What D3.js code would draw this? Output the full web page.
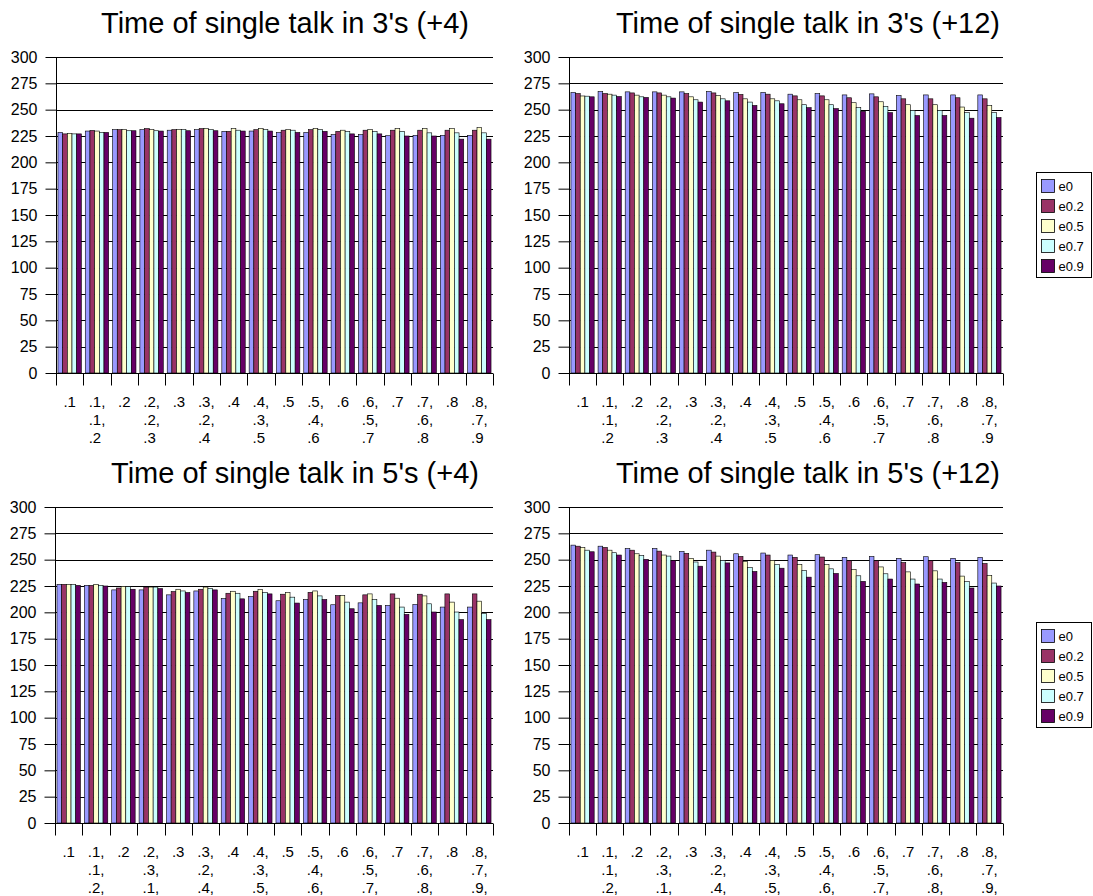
<!DOCTYPE html>
<html>
<head>
<meta charset="utf-8">
<script src="https://cdn.jsdelivr.net/npm/d3@7"></script>
<style>
  body { margin: 0; background: #fff; }
  svg { display: block; font-family: "Liberation Sans", Arial, sans-serif; }
</style>
</head>
<body>
<svg id="chart" width="1093" height="896"></svg>
<script>
// series + categories
const seriesNames = ["e0", "e0.2", "e0.5", "e0.7", "e0.9"];
const seriesColors = ["#9999FF", "#993366", "#FFFFCC", "#CCFFFF", "#660066"];
const yTicks = [0, 25, 50, 75, 100, 125, 150, 175, 200, 225, 250, 275, 300];

const catsTop = [".1", ".1,\n.1,\n.2", ".2", ".2,\n.2,\n.3", ".3", ".3,\n.2,\n.4", ".4", ".4,\n.3,\n.5",
                 ".5", ".5,\n.4,\n.6", ".6", ".6,\n.5,\n.7", ".7", ".7,\n.6,\n.8", ".8", ".8,\n.7,\n.9"];
const catsBottom = [".1", ".1,\n.1,\n.2,", ".2", ".2,\n.3,\n.1,", ".3", ".3,\n.2,\n.4,", ".4", ".4,\n.3,\n.5,",
                    ".5", ".5,\n.4,\n.6,", ".6", ".6,\n.5,\n.7,", ".7", ".7,\n.6,\n.8,", ".8", ".8,\n.7,\n.9,"];

// values, one row per series (e0, e0.2, e0.5, e0.7, e0.9), 16 categories each
const talk3s4 = [
  [228.4, 229.7, 231, 231, 230.5, 231, 229.4, 229.7, 228.4, 228.4, 226.3, 226.3, 225.3, 225.6, 225.6, 225.6],
  [227, 230.3, 231, 232, 231, 232, 229.4, 231, 230.5, 231, 229.4, 230.5, 230.5, 230.5, 230.5, 230.5],
  [227.5, 229.7, 231, 231, 231, 232, 232, 232, 231, 232, 230.5, 231, 232, 232, 232, 233],
  [227, 228.4, 230, 230, 231, 231, 230.5, 231, 230.5, 231, 229.4, 229.4, 229.4, 228, 228, 228],
  [227, 228.4, 230, 229.7, 230, 230, 229.7, 229.7, 228.4, 229.4, 227, 227, 225, 225, 222, 222]
];
const talk3s12 = [
  [266.3, 267.2, 266.9, 266.9, 266.9, 267.2, 266.3, 266.3, 264.7, 265.3, 264, 265, 263.4, 264, 264, 264],
  [265.3, 265.3, 265.9, 265.9, 265.3, 265.9, 264.4, 264.7, 263.1, 263.1, 261.3, 262.2, 260.3, 260.3, 261.3, 260.3],
  [263, 264.7, 263.8, 263.8, 262.2, 263.4, 260.3, 260.3, 259.4, 259.4, 256.6, 257.5, 254.7, 254.7, 252.5, 253.8],
  [262.8, 263.8, 262.2, 262.2, 259.4, 260.3, 257.2, 258.4, 254.7, 254.7, 251.9, 253.1, 249.4, 249.4, 247.2, 247.2],
  [262.2, 262.5, 261.6, 261, 257.2, 258.4, 254, 255.6, 251.9, 251, 248.4, 247.2, 244.4, 244.4, 241.9, 242.5]
];
const talk5s4 = [
  [226.6, 225.6, 221.3, 221.3, 216.6, 220.3, 213.1, 215, 211, 212.2, 207.2, 209, 206.6, 207.5, 205, 205],
  [226.6, 225.6, 223.1, 224, 219.7, 221.9, 218.1, 220, 217.2, 219, 215.9, 216.6, 217.5, 217.2, 217.5, 217.5],
  [226.6, 226.6, 224.7, 224, 221.9, 224, 220, 221.6, 218.8, 220.3, 215.9, 217.5, 213.4, 215.6, 209.7, 210.6],
  [226.3, 225.6, 224.4, 224, 220.3, 222.8, 218.1, 219, 214.4, 215.6, 209.7, 212.2, 205, 208.1, 200.3, 199],
  [225.6, 225, 221.9, 222.5, 218.8, 221.3, 212.8, 217.5, 208.8, 212.2, 203.4, 206.6, 198, 200.3, 193.1, 193.1]
];
const talk5s12 = [
  [263.8, 262.8, 260.6, 260.6, 257.8, 259, 255.6, 256.3, 254.4, 254.7, 252.2, 253.1, 251.3, 252.8, 251.3, 252.2],
  [262.8, 261.6, 259, 258.1, 256, 257.2, 253.1, 254.4, 252.2, 252.5, 249, 249, 247.2, 249, 247.2, 246.3],
  [261.6, 259, 255.6, 254.4, 251.3, 253.4, 248.4, 249.4, 245.3, 245.3, 240.6, 243.1, 238.4, 239.4, 234.4, 235],
  [259, 256.6, 254, 253.4, 247.8, 249.4, 242.5, 245.6, 239.7, 241.3, 234.7, 236.6, 231.6, 231.6, 229.1, 227.8],
  [257.5, 254.4, 250.3, 249.4, 243.8, 246.9, 238.8, 241.9, 233.4, 236.9, 229.4, 231.6, 226.9, 228.4, 223.1, 225]
];

const panels = [
  { title: "Time of single talk in 3's (+4)",  values: talk3s4,  cats: catsTop,    left: 56,  right: 493,  top: 57,  bottom: 373, titleX: 285, titleY: 33 },
  { title: "Time of single talk in 3's (+12)", values: talk3s12, cats: catsTop,    left: 569, right: 1003, top: 57,  bottom: 373, titleX: 808, titleY: 33, legendY: 172 },
  { title: "Time of single talk in 5's (+4)",  values: talk5s4,  cats: catsBottom, left: 55,  right: 493,  top: 507, bottom: 823, titleX: 295, titleY: 483 },
  { title: "Time of single talk in 5's (+12)", values: talk5s12, cats: catsBottom, left: 569, right: 1003, top: 507, bottom: 823, titleX: 808, titleY: 483, legendY: 622 }
];

const svg = d3.select("#chart");

function drawPanel(p) {
  const g = svg.append("g");
  const x = d3.scaleBand().domain(d3.range(p.cats.length)).range([p.left, p.right]).padding(0);
  const xs = d3.scaleBand().domain(d3.range(seriesNames.length)).range([0, x.bandwidth()])
    .paddingInner(0).paddingOuter(0.42);
  const y = d3.scaleLinear().domain([0, 300]).range([p.bottom, p.top]);

  g.append("text")
    .attr("x", p.titleX).attr("y", p.titleY)
    .attr("text-anchor", "middle")
    .attr("font-size", 29)
    .text(p.title);

  // gridlines
  g.append("g").selectAll("line")
    .data(yTicks.filter(d => d > 0))
    .join("line")
    .attr("x1", p.left).attr("x2", p.right)
    .attr("y1", d => Math.round(y(d)) + 0.5).attr("y2", d => Math.round(y(d)) + 0.5)
    .attr("stroke", "#000").attr("stroke-width", 1);

  // bars
  const rows = [];
  p.values.forEach((vals, s) => vals.forEach((v, c) => rows.push({ s, c, v })));
  g.append("g").selectAll("rect")
    .data(rows)
    .join("rect")
    .attr("x", d => x(d.c) + xs(d.s))
    .attr("width", xs.bandwidth())
    .attr("y", d => y(d.v))
    .attr("height", d => y(0) - y(d.v))
    .attr("fill", d => seriesColors[d.s])
    .attr("stroke", "#000")
    .attr("stroke-width", 0.6);

  // y axis
  const yAxis = d3.axisLeft(y).tickValues(yTicks).tickSize(11).tickPadding(8);
  const ya = g.append("g").attr("transform", `translate(${p.left + 0.5},0)`).call(yAxis);
  ya.select(".domain").attr("stroke", "#000").attr("d", `M0,${p.bottom}V${p.top}`);
  ya.selectAll(".tick line").attr("stroke", "#000");
  ya.selectAll("text").attr("font-size", 16).attr("font-family", "Liberation Sans, Arial, sans-serif").attr("fill", "#000");

  // x axis line + boundary ticks
  const by = Math.round(y(0)) + 0.5;
  g.append("line").attr("x1", p.left).attr("x2", p.right).attr("y1", by).attr("y2", by).attr("stroke", "#000");
  g.append("g").selectAll("line")
    .data(d3.range(p.cats.length + 1))
    .join("line")
    .attr("x1", i => Math.round(p.left + i * x.step()) + 0.5)
    .attr("x2", i => Math.round(p.left + i * x.step()) + 0.5)
    .attr("y1", by).attr("y2", by + 12)
    .attr("stroke", "#000");

  // category labels (block centred, lines left aligned)
  const labels = g.append("g").selectAll("text")
    .data(p.cats)
    .join("text")
    .attr("font-size", 15)
    .attr("y", p.bottom + 34);
  labels.each(function (d) {
    const t = d3.select(this);
    d.split("\n").forEach((line, i) => {
      t.append("tspan").attr("x", 0).attr("dy", i === 0 ? 0 : 18).text(line);
    });
  });
  labels.each(function (d, i) {
    const w = this.getBBox().width;
    const cx = x(i) + x.bandwidth() / 2;
    d3.select(this).selectAll("tspan").attr("x", cx - w / 2);
  });

  if (p.legendY !== undefined) drawLegend(p.legendY);
}

function drawLegend(top) {
  const g = svg.append("g").attr("transform", `translate(1036.5,${top + 0.5})`);
  g.append("rect").attr("width", 55).attr("height", 105).attr("fill", "#fff").attr("stroke", "#000");
  const items = g.selectAll("g.item")
    .data(seriesNames)
    .join("g")
    .attr("class", "item")
    .attr("transform", (d, i) => `translate(5,${7 + i * 20})`);
  items.append("rect")
    .attr("width", 13).attr("height", 13)
    .attr("fill", (d, i) => seriesColors[i])
    .attr("stroke", "#000").attr("stroke-width", 0.8);
  items.append("text")
    .attr("x", 17).attr("y", 11.5)
    .attr("font-size", 13)
    .text(d => d);
}

panels.forEach(drawPanel);
</script>
</body>
</html>
